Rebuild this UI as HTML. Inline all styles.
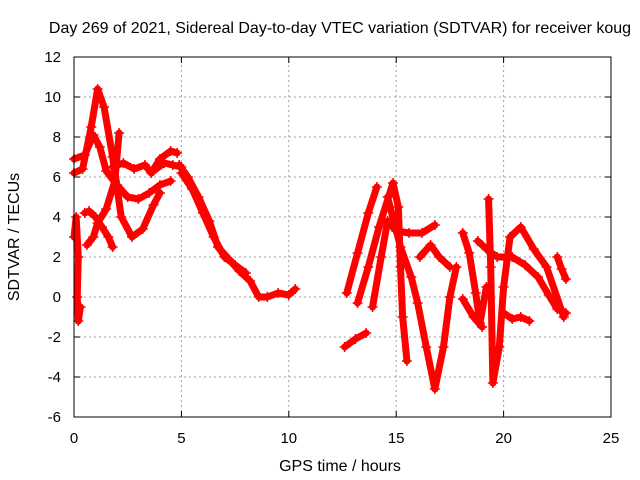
<!DOCTYPE html>
<html><head><meta charset="utf-8"><style>
body{margin:0;background:#fff;}
svg{display:block;font-family:"Liberation Sans",sans-serif;}
</style></head><body>
<svg id="chart" width="640" height="480">
<text x="340" y="33" font-size="16" text-anchor="middle">Day 269 of 2021, Sidereal Day-to-day VTEC variation (SDTVAR) for receiver koug</text>
<text x="340" y="471" font-size="16" text-anchor="middle">GPS time / hours</text>
<text transform="translate(19,237) rotate(-90)" font-size="16" text-anchor="middle">SDTVAR / TECUs</text>
<g id="grid"></g><g id="marks"></g>
<rect x="74" y="57" width="537" height="360" fill="none" stroke="#000" stroke-width="1"/>
</svg>
<script>
const xTicks=[0,5,10,15,20,25];
const yTicks=[-6,-4,-2,0,2,4,6,8,10,12];
const track1=[[0,6.9],[0.5,7.1],[0.9,8.1],[1.2,7.5],[1.5,6.3],[2,5.6],[2.5,5.0],[3,4.9],[3.5,5.2],[4,5.6],[4.5,5.8]];
const track2=[[0,6.2],[0.4,6.4],[0.8,8.5],[1.1,10.4],[1.4,9.5],[1.8,7],[2.2,4],[2.7,3],[3.2,3.4],[3.7,4.6],[4,5.2]];
const track3=[[1.8,6.5],[2.3,6.7],[2.8,6.4],[3.3,6.6],[3.6,6.2],[4,6.9],[4.5,7.3],[4.8,7.2]];
const track4=[[3.7,6.3],[4.2,6.7],[4.6,6.6],[5,6.5]];
const track5=[[4.9,6.6],[5.3,6.0],[5.8,5.0],[6.3,3.8],[6.7,2.5],[7.2,1.9],[7.7,1.3],[8.2,0.8],[8.6,0],[9,0],[9.5,0.2],[10,0.1],[10.3,0.4]];
const track5b=[[5.0,6.2],[5.5,5.4],[6.0,4.2],[6.5,3.0],[7.0,2.0],[7.5,1.6],[8.0,1.2]];
const track6=[[0,3],[0.1,4],[0.2,2],[0.15,0],[0.2,-1.2],[0.3,-0.5]];
const track7=[[0.5,4.2],[0.7,4.3],[1,4],[1.3,3.5],[1.6,3.0],[1.8,2.5]];
const track8=[[0.6,2.6],[0.9,3],[1.1,3.7],[1.5,4.4],[1.9,5.8],[2.1,8.2]];
const track9=[[12.6,-2.5],[13.1,-2.1],[13.6,-1.8]];
const track10=[[12.7,0.2],[13.2,2.2],[13.7,4.2],[14.1,5.5]];
const track11=[[13.2,-0.3],[13.7,1.5],[14.2,3.5],[14.85,5.7],[15.1,4.5],[15.2,1.5],[15.3,-1],[15.5,-3.2]];
const track12=[[13.9,-0.5],[14.3,2],[14.6,3.8],[15.0,3.3],[15.6,3.2],[16.2,3.2],[16.8,3.6]];
const track13=[[14.6,5],[15.2,2.5],[15.7,1.0],[16.0,-0.3],[16.4,-2.5],[16.8,-4.6],[17.2,-2.5],[17.5,0],[17.8,1.5]];
const track14=[[16.1,2],[16.6,2.6],[17.0,2.0],[17.5,1.5]];
const track15=[[18.1,3.2],[18.4,2.2],[18.7,0.2],[18.9,-1.3],[19.2,0.5]];
const track16=[[18.1,-0.1],[18.6,-1.0],[19,-1.5]];
const track17=[[19.3,4.9],[19.4,1.5],[19.5,-4.3],[19.8,-2.5],[20.0,0.5],[20.3,3.0],[20.8,3.5],[21.4,2.4],[22,1.5],[22.8,-1]];
const track18=[[20,-0.8],[20.4,-1.1],[20.8,-1.0],[21.2,-1.2]];
const track19=[[18.8,2.8],[19.2,2.4],[19.7,2.0],[20.4,2.0],[21,1.6],[21.6,1.0],[22.1,0.1],[22.5,-0.6],[22.9,-0.8]];
const track20=[[22.5,2],[22.7,1.4],[22.9,0.9]];
const tracks=[track1,track2,track3,track4,track5,track5b,track6,track7,track8,track9,track10,track11,track12,track13,track14,track15,track16,track17,track18,track19,track20];
const X0=74,X1=611,Y0=417,Y1=57;
function xs(t){return X0+(t-0)/(25-0)*(X1-X0);}
function ys(v){return Y0-(v+6)/(18)*(Y0-Y1);}
const NS="http://www.w3.org/2000/svg";
const svg=document.getElementById('chart');
const grid=document.getElementById('grid');
const marks=document.getElementById('marks');
function mk(tag,attrs,parent){const e=document.createElementNS(NS,tag);for(const k in attrs)e.setAttribute(k,attrs[k]);parent.appendChild(e);return e;}
xTicks.forEach(t=>{
  const x=xs(t);
  if(t>0&&t<25){const g=mk('line',{x1:x,y1:Y0,x2:x,y2:Y1,stroke:'#a0a0a0','stroke-dasharray':'2,3'},grid);
  
  }
  mk('line',{x1:x,y1:Y0,x2:x,y2:Y0-6,stroke:'#000'},grid);
  mk('line',{x1:x,y1:Y1,x2:x,y2:Y1+6,stroke:'#000'},grid);
  const l=mk('text',{x:x,y:Y0+26,'font-size':15,'text-anchor':'middle'},svg);
  l.textContent=t;
  
  
});
yTicks.forEach(v=>{
  const y=ys(v);
  if(v>-6&&v<12){const g=mk('line',{x1:X0,y1:y,x2:X1,y2:y,stroke:'#a0a0a0','stroke-dasharray':'2,3'},grid);
  
  }
  mk('line',{x1:X0,y1:y,x2:X0+6,y2:y,stroke:'#000'},grid);
  mk('line',{x1:X1,y1:y,x2:X1-6,y2:y,stroke:'#000'},grid);
  const l=mk('text',{x:X0-13,y:y+5,'font-size':15,'text-anchor':'end'},svg);
  l.textContent=v;
  
  
});
tracks.forEach((tr,i)=>{
  const p=mk('polyline',{points:tr.map(d=>xs(d[0])+','+ys(d[1])).join(' '),fill:'none',stroke:'#ff0000','stroke-width':7,'stroke-linejoin':'round','stroke-linecap':'round'},marks);
  
  
  tr.forEach(d=>{
    const x=xs(d[0]),y=ys(d[1]);
    const m=mk('path',{d:`M${x-5},${y}H${x+5}M${x},${y-5}V${y+5}`,stroke:'#ff0000','stroke-width':1.5},marks);
    
    
  });
});
</script>
</body></html>
